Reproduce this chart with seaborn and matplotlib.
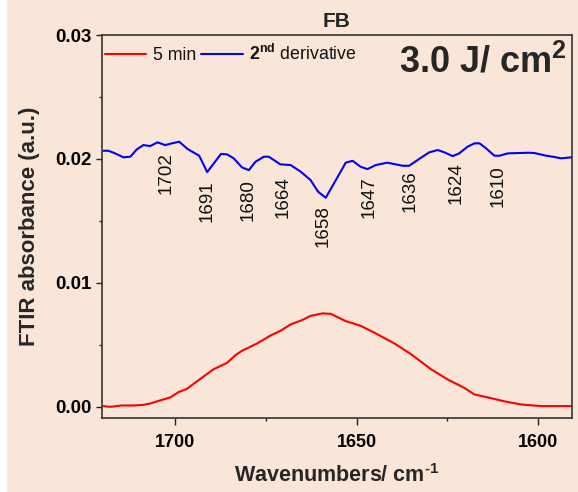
import numpy as np
import pandas as pd
import matplotlib
matplotlib.use("Agg")
import matplotlib.pyplot as plt
import seaborn as sns
from matplotlib.patches import Rectangle
from matplotlib.ticker import MultipleLocator

# ---------------- data ----------------
red_wn = [1719.8, 1718.0, 1714.7, 1711.5, 1708.8, 1706.9, 1704.6, 1701.4, 1699.1, 1696.8,
          1693.6, 1689.4, 1685.7, 1683.4, 1681.6, 1677.4, 1673.7, 1671.0, 1668.2, 1665.0,
          1662.7, 1659.4, 1657.1, 1653.0, 1648.9, 1645.2, 1639.6, 1635.0, 1629.5, 1624.9,
          1620.3, 1617.5, 1613.8, 1609.2, 1604.6, 1599.1, 1590.0]
red_abs = [0.00006, 0.00000, 0.00011, 0.00011, 0.00016, 0.00027, 0.00048, 0.00076, 0.00119, 0.00145,
           0.00215, 0.00304, 0.00355, 0.00417, 0.00452, 0.00512, 0.00576, 0.00613, 0.00665, 0.00700,
           0.00734, 0.00754, 0.00750, 0.00692, 0.00654, 0.00600, 0.00512, 0.00425, 0.00304, 0.00221,
           0.00153, 0.00100, 0.00076, 0.00044, 0.00019, 0.00006, 0.00006]

blue_wn = [1719.8, 1718.4, 1716.6, 1714.3, 1712.4, 1710.6, 1708.8, 1706.9, 1704.9, 1702.8,
           1700.9, 1698.9, 1696.6, 1693.4, 1691.2, 1687.4, 1685.7, 1683.9, 1681.6, 1679.7,
           1677.9, 1675.6, 1674.2, 1671.0, 1668.2, 1665.4, 1662.7, 1660.6, 1658.5, 1654.4,
           1653.0, 1651.1, 1648.9, 1647.0, 1644.7, 1641.5, 1637.3, 1635.5, 1633.2, 1630.0,
           1627.6, 1625.8, 1623.5, 1621.7, 1619.4, 1617.5, 1616.1, 1614.3, 1612.0, 1610.6,
           1608.3, 1602.8, 1601.0, 1597.7, 1595.9, 1593.6, 1590.8]
blue_abs = [0.02066, 0.02066, 0.02045, 0.02013, 0.02018, 0.02077, 0.02112, 0.02104, 0.02134, 0.02112,
            0.02126, 0.02139, 0.02080, 0.02026, 0.01894, 0.02040, 0.02037, 0.02005, 0.01932, 0.01910,
            0.01977, 0.02018, 0.02018, 0.01956, 0.01951, 0.01897, 0.01830, 0.01735, 0.01687, 0.01897,
            0.01970, 0.01985, 0.01937, 0.01918, 0.01951, 0.01970, 0.01945, 0.01945, 0.01991, 0.02053,
            0.02072, 0.02053, 0.02023, 0.02045, 0.02099, 0.02126, 0.02126, 0.02086, 0.02026, 0.02026,
            0.02045, 0.02050, 0.02048, 0.02026, 0.02018, 0.02005, 0.02013]

series_names = ["5 min", r"$\mathbf{2^{nd}}$ derivative"]
series_colors = ["#ff0000", "#0000ff"]

peak_labels = ["1702", "1691", "1680", "1664", "1658", "1647", "1636", "1624", "1610"]
peak_label_x = [1702.5, 1691.2, 1679.9, 1670.2, 1659.2, 1646.6, 1635.2, 1622.6, 1611.1]
peak_label_top = [0.02056, 0.01830, 0.01836, 0.01857, 0.01627, 0.01863, 0.01910, 0.01970, 0.01950]

x_ticks = [1700, 1650, 1600]
y_ticks = [0.00, 0.01, 0.02, 0.03]

# ---------------- style ----------------
BG = "#FAE5D9"
sns.set_theme(style="ticks")
plt.rcParams["font.family"] = ["Liberation Sans", "DejaVu Sans"]
plt.rcParams["mathtext.fontset"] = "custom"
plt.rcParams["mathtext.rm"] = "Liberation Sans"
plt.rcParams["mathtext.bf"] = "Liberation Sans:bold"
plt.rcParams["mathtext.it"] = "Liberation Sans:italic"

DPI = 100
fig = plt.figure(figsize=(5.78, 4.92), dpi=DPI, facecolor=BG)
W, H = 578, 492
ax = fig.add_axes([102 / W, 1 - 418 / H, (572 - 102) / W, (418 - 35) / H])
ax.set_facecolor(BG)

df = pd.concat([
    pd.DataFrame({"wn": red_wn, "abs": red_abs, "series": series_names[0]}),
    pd.DataFrame({"wn": blue_wn, "abs": blue_abs, "series": series_names[1]}),
], ignore_index=True)

sns.lineplot(data=df, x="wn", y="abs", hue="series", palette=series_colors,
             sort=False, estimator=None, linewidth=1.5, ax=ax)

ax.set_xlim(1720.2, 1590.6)
ax.set_ylim(-0.0009, 0.03)
ax.set_xticks(x_ticks)
ax.set_yticks(y_ticks)
ax.xaxis.set_minor_locator(MultipleLocator(25))
ax.yaxis.set_minor_locator(MultipleLocator(0.005))
ax.set_xticklabels([f"{t:d}" for t in x_ticks], fontweight="bold", fontsize=13)
ax.set_yticklabels([f"{t:.2f}" for t in y_ticks], fontweight="bold", fontsize=13.5)
ax.tick_params(axis="x", which="major", direction="out", length=5.2, width=1.0, pad=6, colors="#222222", labelcolor="black")
ax.tick_params(axis="x", which="minor", direction="out", length=2.5, width=1.0, colors="#222222")
ax.tick_params(axis="y", which="major", direction="out", length=4.3, width=1.0, pad=3, colors="#222222", labelcolor="black")
ax.tick_params(axis="y", which="minor", direction="out", length=2.2, width=1.0, colors="#222222")
for s in ax.spines.values():
    s.set_visible(True)
    s.set_color("#333333")
    s.set_linewidth(1.2)

ax.set_xlabel("Wavenumbers/ cm$^{\\mathbf{\u2010}\\mathbf{1}}$", fontweight="bold", fontsize=15.5, labelpad=10)
ax.set_ylabel("FTIR absorbance (a.u.)", fontweight="bold", fontsize=16, labelpad=11)
ax.set_title("FB", fontweight="bold", fontsize=15, pad=6)

for lab, xv, yv in zip(peak_labels, peak_label_x, peak_label_top):
    ax.text(xv, yv, lab, rotation=90, ha="center", va="top", fontsize=13.5, color="#111111")

ax.text(0.99, 0.928, "3.0 J/ cm$^{\\mathbf{2}}$", transform=ax.transAxes, ha="right", va="center",
        fontsize=26, fontweight="bold")

leg = ax.legend(loc="upper left", bbox_to_anchor=(-0.017, 1.005), ncol=2, frameon=False,
                fontsize=12.8, handlelength=2.35, handletextpad=0.35, columnspacing=0.3,
                borderaxespad=0.2)
for t in leg.get_texts():
    t.set_color("#111111")

# neighbouring panel edge at the far left
fig.patches.append(Rectangle((0, 0), 7 / W, 1, transform=fig.transFigure, facecolor="white",
                             edgecolor="none", zorder=0))
ax_left = fig.add_axes([-0.2, 1 - 418 / H, 0.2 + 2.7 / W, (418 - 35) / H])
ax_left.set_facecolor("white")
ax_left.set_xticks([])
ax_left.set_yticks([])
ax_left.set_ylim(-0.0009, 0.03)
ax_left.axhline(blue_abs[-1] + 0.0001, color="#0000ff", lw=1.5)
ax_left.axhline(red_abs[-1], color="#ff0000", lw=1.5)
for s in ax_left.spines.values():
    s.set_color("#333333")
    s.set_linewidth(1.2)

fig.savefig("out.png", dpi=DPI, facecolor=BG)
